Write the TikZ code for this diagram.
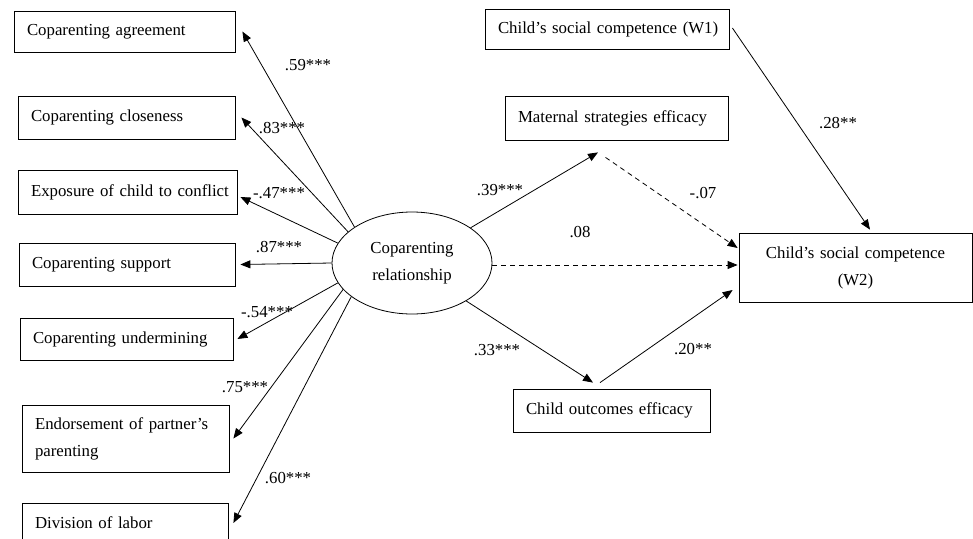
\documentclass[tikz,border=0pt]{standalone}
\usepackage{fontspec}
\setmainfont{Liberation Serif}
\usetikzlibrary{arrows.meta,shapes.geometric,calc}
\begin{document}
\begin{tikzpicture}[x=1pt,y=-1pt,
  every node/.style={font=\fontsize{16.8}{27}\selectfont},
  box/.style={draw,line width=0.8pt,rectangle,inner xsep=13pt,inner ysep=0pt,align=left},
  arr/.style={line width=0.8pt,-{Triangle[length=10pt,width=8pt]}},
  dasharr/.style={arr,dash pattern=on 5pt off 4pt}]
\useasboundingbox (0,0) rectangle (973,538);
% indicators of the latent variable
\node[box,text width=195,minimum height=41] (agree) at (124.5,31.5) {Coparenting agreement};
\node[box,text width=191,minimum height=43] (close) at (126.5,117.5) {Coparenting closeness};
\node[box,text width=193,minimum height=44] (expo) at (127.5,192) {\mbox{Exposure of child to conflict}};
\node[box,text width=190,minimum height=43] (supp) at (127,264.5) {Coparenting support};
\node[box,text width=187,minimum height=42] (under) at (126.5,339) {Coparenting undermining};
\node[box,text width=181,minimum height=67] (endo) at (125.5,438.5) {Endorsement of partner's\\parenting};
\node[box,text width=180,minimum height=40] (divi) at (125,523) {Division of labor};
\node[draw,line width=0.8pt,ellipse,minimum width=160,minimum height=102,inner sep=0pt,align=center] (cop) at (412,263) {Coparenting\\relationship};
% mediators and outcome
\node[box,text width=218,minimum height=40] (w1) at (607,29) {\mbox{Child's social competence (W1)}};
\node[box,text width=197,minimum height=44] (mat) at (616.5,118) {Maternal strategies efficacy};
\node[box,text width=171,minimum height=43] (outc) at (611.5,410.5) {Child outcomes efficacy};
\node[box,text width=207,minimum height=69,align=center] (w2) at (855.5,267.5) {Child's social competence\\(W2)};
% loadings
\draw[arr] (cop.148) -- ([xshift=7pt]agree.east);
\draw[arr] (cop.154) -- ([xshift=6pt]close.east);
\draw[arr] (cop.165) -- ([xshift=3pt,yshift=-5pt]expo.east);
\draw[arr] (cop.180) -- ([xshift=5pt]supp.east);
\draw[arr] (cop.195) -- ([xshift=4pt]under.east);
\draw[arr] (cop.201) -- ([xshift=4pt]endo.east);
\draw[arr] (cop.209) -- ([xshift=5pt]divi.east);
\node (l59) at (308,65) {.59***};
\node (l83) at (282,128) {.83***};
\node (l47) at (279,193) {-.47***};
\node (l87) at (279,247) {.87***};
\node (l54) at (267,312) {-.54***};
\node (l75) at (245,387) {.75***};
\node (l60) at (288,478) {.60***};
% paths
\draw[arr] (cop.31) -- ($(mat.south)+(-18.5,12)$);
\draw[dasharr] ($(mat.south)+(-11,17)$) -- ($(w2.west)+(-1,-19.5)$);
\draw[dasharr] ($(cop.east)+(0,2)$) -- ($(w2.west)+(-1,-2.5)$);
\draw[arr] (cop.-35) -- ($(outc.north)+(-18.5,-6)$);
\draw[arr] ($(outc.north)+(-11.5,-6)$) -- ($(w2.west)+(-6,22.5)$);
\draw[arr] ($(w1.east)+(3,-1)$) -- ($(w2.north)+(14.5,-3)$);
\node (l39) at (500,190) {.39***};
\node (l08) at (580,232) {.08};
\node (l07) at (703,193) {-.07};
\node (l33) at (497,350) {.33***};
\node (l20) at (693,349) {.20**};
\node (l28) at (838,123) {.28**};
\end{tikzpicture}
\end{document}
